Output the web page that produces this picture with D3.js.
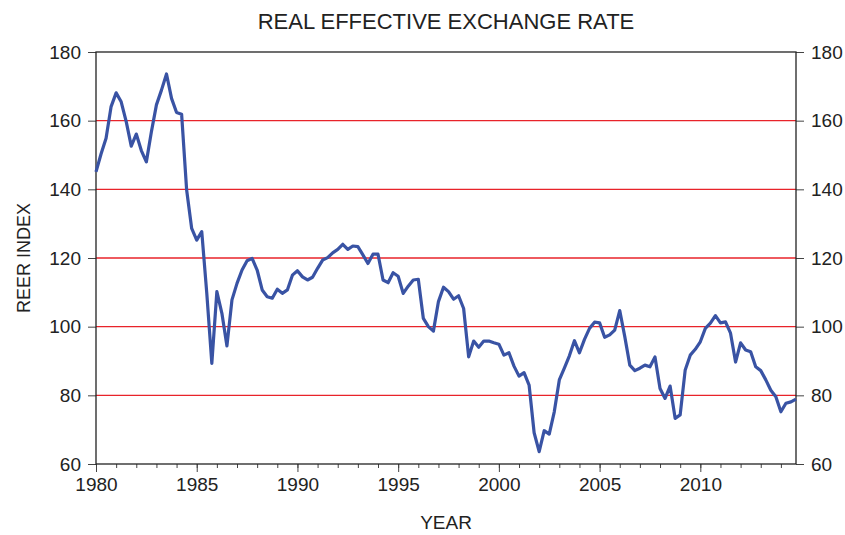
<!DOCTYPE HTML>
<html lang="en">

    <head>
        <meta charset="utf-8" />
        <title>Real Effective Exchange Rate</title>
        <style>
            body { margin: 0; background: #fff; }
            text { font-family: "Liberation Sans", Arial, sans-serif; fill: #222; }
        </style>
    </head>

    <body>

        <div id="chart"></div>

        <script type="text/javascript" src="https://d3js.org/d3.v7.min.js"></script>
        <script>

            // quarterly observations, 1980Q1 .. 2014Q4
            const startYear = 1980;
            const reer = [
                145.1, 150.3, 154.9, 164.1, 168.1, 165.5, 159.7, 152.6, 156.1, 151.3,
                148.0, 156.8, 164.6, 168.9, 173.6, 166.5, 162.4, 161.9, 139.8, 128.6,
                125.2, 127.7, 109.7, 89.3, 110.2, 103.9, 94.4, 107.8, 112.6, 116.5,
                119.2, 119.9, 116.5, 110.7, 108.7, 108.3, 110.9, 109.7, 110.7, 115.0,
                116.3, 114.5, 113.6, 114.4, 117.0, 119.4, 120.1, 121.5, 122.5, 124.0,
                122.5, 123.5, 123.3, 120.9, 118.4, 121.1, 121.1, 113.6, 112.8, 115.7,
                114.7, 109.7, 111.8, 113.6, 113.8, 102.4, 100.0, 98.7, 107.3, 111.5,
                110.2, 108.0, 109.0, 105.3, 91.2, 95.8, 94.0, 95.8, 95.8, 95.3,
                94.9, 91.7, 92.4, 88.5, 85.6, 86.6, 83.0, 69.1, 63.6, 69.7,
                68.7, 75.2, 84.5, 87.9, 91.5, 95.9, 92.4, 96.3, 99.5, 101.3,
                101.1, 96.9, 97.6, 99.0, 104.7, 97.1, 88.8, 87.2, 87.9, 88.8,
                88.3, 91.2, 82.0, 79.1, 82.7, 73.3, 74.3, 87.4, 91.7, 93.4,
                95.6, 99.5, 101.0, 103.2, 101.1, 101.4, 98.1, 89.7, 95.3, 93.2,
                92.7, 88.3, 87.2, 84.5, 81.5, 79.6, 75.2, 77.7, 78.1, 78.9
            ];
            const yearTicks = [1980, 1985, 1990, 1995, 2000, 2005, 2010];
            const minorTicks = d3.range(1980, 2015);
            const valueTicks = [60, 80, 100, 120, 140, 160, 180];
            const gridValues = [80, 100, 120, 140, 160];

            const width = 845;
            const height = 535;
            const margin = { top: 52, right: 49, bottom: 71, left: 96 };

            const data = reer.map((v, i) => ({ year: startYear + i / 4, value: v }));

            const x = d3.scaleLinear()
                .domain([1980, 2014.75])
                .range([margin.left, width - margin.right]);

            const y = d3.scaleLinear()
                .domain([60, 180])
                .range([height - margin.bottom, margin.top]);

            const svg = d3.select("#chart")
                .append("svg")
                .attr("width", width)
                .attr("height", height);

            // red horizontal gridlines
            svg.append("g")
                .selectAll("line")
                .data(gridValues)
                .enter()
                .append("line")
                .attr("x1", x.range()[0])
                .attr("x2", x.range()[1])
                .attr("y1", d => y(d))
                .attr("y2", d => y(d))
                .attr("stroke", "#e8232a")
                .attr("stroke-width", 1.3);

            // axes
            const styleAxis = g => {
                g.select(".domain").remove();
                g.selectAll(".tick line").attr("stroke", "#444");
                g.selectAll(".tick text")
                    .attr("font-size", 19)
                    .attr("fill", "#222");
            };

            svg.append("g")
                .attr("transform", `translate(${margin.left},0)`)
                .call(d3.axisLeft(y).tickValues(valueTicks).tickSize(8).tickPadding(7))
                .call(styleAxis);

            svg.append("g")
                .attr("transform", `translate(${width - margin.right},0)`)
                .call(d3.axisRight(y).tickValues(valueTicks).tickSize(8).tickPadding(7))
                .call(styleAxis);

            svg.append("g")
                .attr("transform", `translate(0,${height - margin.bottom})`)
                .call(d3.axisBottom(x).tickValues(minorTicks).tickSize(4).tickFormat(""))
                .call(styleAxis);

            svg.append("g")
                .attr("transform", `translate(0,${height - margin.bottom})`)
                .call(d3.axisBottom(x).tickValues(yearTicks).tickSize(8).tickPadding(6).tickFormat(d3.format("d")))
                .call(styleAxis);

            // frame around the plot
            svg.append("rect")
                .attr("x", x.range()[0])
                .attr("y", y.range()[1])
                .attr("width", x.range()[1] - x.range()[0])
                .attr("height", y.range()[0] - y.range()[1])
                .attr("fill", "none")
                .attr("stroke", "#222")
                .attr("stroke-width", 1.3);

            // the series
            const line = d3.line()
                .x(d => x(d.year))
                .y(d => y(d.value));

            svg.append("path")
                .datum(data)
                .attr("d", line)
                .attr("fill", "none")
                .attr("stroke", "#3953a4")
                .attr("stroke-width", 3.2)
                .attr("stroke-linejoin", "round");

            // titles
            svg.append("text")
                .attr("x", (x.range()[0] + x.range()[1]) / 2)
                .attr("y", 29)
                .attr("text-anchor", "middle")
                .attr("font-size", 22)
                .text("REAL EFFECTIVE EXCHANGE RATE");

            svg.append("text")
                .attr("x", (x.range()[0] + x.range()[1]) / 2)
                .attr("y", 529)
                .attr("text-anchor", "middle")
                .attr("font-size", 19)
                .text("YEAR");

            svg.append("text")
                .attr("transform", `translate(30,${(y.range()[0] + y.range()[1]) / 2}) rotate(-90)`)
                .attr("text-anchor", "middle")
                .attr("font-size", 18)
                .text("REER INDEX");
        </script>
    </body>

</html>
